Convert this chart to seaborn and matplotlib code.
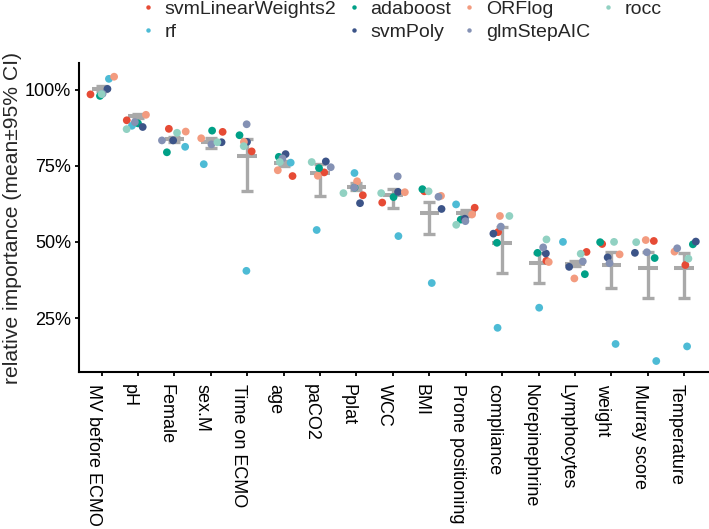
import numpy as np
import pandas as pd
import matplotlib
matplotlib.use("Agg")
import matplotlib.pyplot as plt
import matplotlib.ticker as mticker
from matplotlib.lines import Line2D
import seaborn as sns

categories = ["MV before ECMO", "pH", "Female", "sex.M", "Time on ECMO", "age",
              "paCO2", "Pplat", "WCC", "BMI", "Prone positioning", "compliance",
              "Norepinephrine", "Lymphocytes", "weight", "Murray score", "Temperature"]

models = ["svmLinearWeights2", "rf", "adaboost", "svmPoly", "ORFlog", "glmStepAIC", "rocc"]

svmLinearWeights2 = [98.4, 89.9, 87.1, 86.1, 79.7, 71.6, 72.8, 65.3, 62.9, 66.6, 61.2, 53.2, 43.8, 46.7, 49.3, 50.3, 42.4]
rf = [103.5, 88.1, 81.2, 75.5, 40.5, 76.0, 53.9, 72.6, 51.9, 36.5, 62.3, 21.8, 28.4, 50.0, 16.5, 10.9, 15.7]
adaboost = [97.9, 88.9, 79.4, 86.5, 85.0, 77.9, 74.2, 67.8, 64.7, 67.3, 57.3, 49.7, 46.4, 39.4, 49.9, 44.7, 49.2]
svmPoly = [100.2, 87.7, 83.3, 82.7, 82.8, 78.8, 76.4, 62.7, 66.4, 60.8, 57.6, 52.7, 46.2, 41.8, 44.9, 46.4, 50.1]
ORFlog = [104.2, 91.7, 86.2, 84.0, 82.8, 73.5, 71.7, 69.9, 66.3, 65.1, 59.0, 58.5, 43.4, 38.0, 45.9, 50.6, 46.8]
glmStepAIC = [98.6, 89.3, 83.3, 82.0, 88.6, 77.4, 74.5, 67.8, 71.5, 64.8, 56.8, 55.0, 48.2, 43.6, 43.0, 46.6, 47.9]
rocc = [98.5, 87.0, 85.8, 82.7, 81.4, 76.2, 76.2, 66.0, 66.0, 66.6, 55.6, 58.5, 50.8, 46.1, 50.0, 49.9, 44.5]

mean_imp = [100.3, 91.2, 83.6, 82.9, 78.2, 75.8, 72.5, 68.1, 65.4, 59.6, 59.4, 49.7, 43.0, 42.8, 42.4, 41.5, 41.5]
ci_low = [99.6, 90.5, 82.9, 80.9, 66.7, 74.9, 65.0, 67.0, 61.2, 52.6, 58.5, 39.9, 36.6, 42.0, 34.8, 31.6, 31.6]
ci_high = [101.0, 92.0, 84.5, 84.0, 83.8, 76.6, 75.5, 69.4, 67.2, 63.0, 60.5, 54.8, 46.4, 43.6, 46.6, 46.7, 46.4]

colors = ["#E64B35", "#4DBBD5", "#00A087", "#3C5488", "#F39B7F", "#8491B4", "#91D1C2"]

series = dict(zip(models, [svmLinearWeights2, rf, adaboost, svmPoly, ORFlog, glmStepAIC, rocc]))
df = pd.DataFrame([
    {"feature": c, "model": m, "importance": series[m][i]}
    for m in models for i, c in enumerate(categories)
])

sns.set_theme(style="ticks")
plt.rcParams["font.family"] = ["Liberation Sans", "DejaVu Sans"]

fig = plt.figure(figsize=(7.09, 5.29), dpi=100)
ax = fig.add_axes([79 / 709, 1 - 372 / 529, 1 - 79 / 709 - 0.001, (372 - 63) / 529])

gray = "#A9A9A9"
x = np.arange(len(categories))
mean_arr = np.array(mean_imp)
yerr = np.vstack([mean_arr - np.array(ci_low), np.array(ci_high) - mean_arr])
ax.errorbar(x, mean_arr, yerr=yerr, fmt="none", ecolor=gray, elinewidth=2.4,
            capsize=4.3, capthick=2.4, zorder=1)
ax.hlines(mean_arr, x - 0.27, x + 0.27, colors=gray, linewidth=2.9, zorder=1)

np.random.seed(7)
sns.stripplot(data=df, x="feature", y="importance", hue="model", order=categories,
              hue_order=models, palette=colors, jitter=0.36, size=5.6,
              linewidth=0, ax=ax, zorder=3, legend=False)

ax.set_xlim(-0.62, 16.66)
ax.set_ylim(7.3, 108.7)
ax.set_yticks([25, 50, 75, 100])
ax.yaxis.set_major_formatter(mticker.FuncFormatter(lambda v, p: f"{int(v)}%"))
ax.set_xlabel("")
ax.set_ylabel("relative importance (mean\u00b195% CI)", fontsize=15.2, labelpad=2.5)

for s in ["top", "right"]:
    ax.spines[s].set_visible(False)
for s in ["left", "bottom"]:
    ax.spines[s].set_linewidth(1.5)
    ax.spines[s].set_color("black")
ax.tick_params(axis="both", length=3, width=1.3, color="black", labelcolor="black")
ax.tick_params(axis="y", labelsize=13, pad=2.5)
ax.tick_params(axis="x", labelsize=13, pad=6)
for lab in ax.get_xticklabels():
    lab.set_rotation(-90)
    lab.set_ha("right")
    lab.set_va("top")

handles = [Line2D([0], [0], marker="o", linestyle="", markersize=3.2,
                  markerfacecolor=c, markeredgewidth=0) for c in colors]
fig.legend(handles, models, loc="upper left", bbox_to_anchor=(142 / 709, 0.999),
           ncol=4, frameon=False, fontsize=14, handlelength=0.6,
           handletextpad=0.55, columnspacing=0.62, labelspacing=0.25, borderpad=0,
           borderaxespad=0)

fig.savefig("out.png", dpi=100)
